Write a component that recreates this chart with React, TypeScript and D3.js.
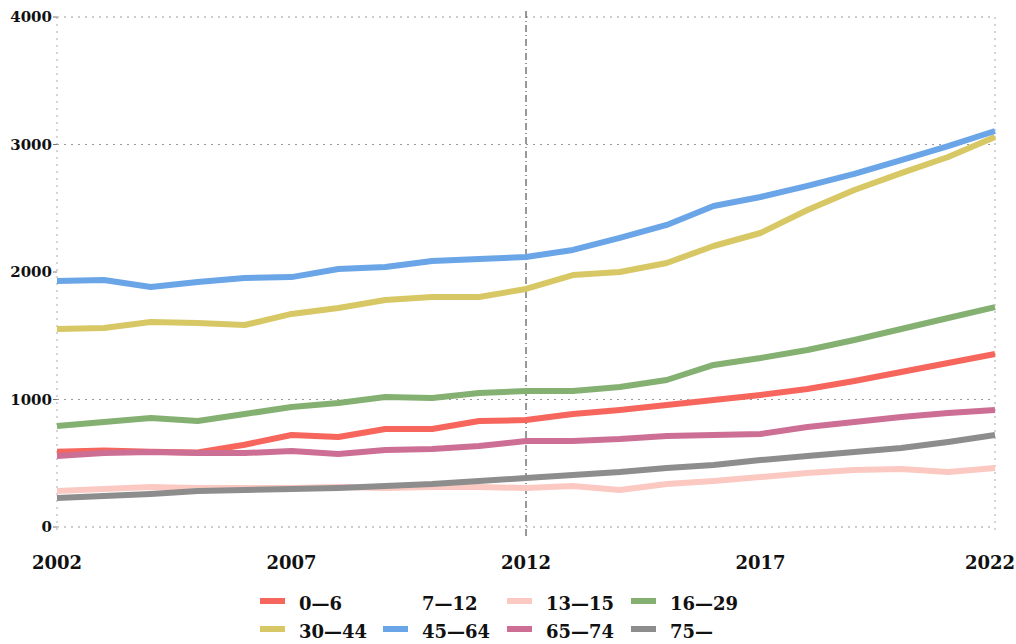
import React from "react";
import * as d3 from "d3";

const years = d3.range(2002, 2023);
const yTicks = [0, 1000, 2000, 3000, 4000];
const xTicks = [2002, 2007, 2012, 2017, 2022];
const gridYVisible = [0, 1000, 3000, 4000];
const gridXLight = [2002, 2022];
const gridXDark = [2012];

const seriesNames = ["0—6", "7—12", "13—15", "16—29", "30—44", "45—64", "65—74", "75—"];
const seriesColors = ["#f6665c", "none", "#fcc9c2", "#84b171", "#d8c865", "#6aa5e8", "#cd6e95", "#8d8d8d"];

const age0_6 = [590, 600, 590, 585, 645, 722, 706, 769, 769, 831, 839, 886, 918, 957, 996, 1035, 1082, 1145, 1216, 1286, 1357];
const age7_12: number[] = [];
const age13_15 = [282, 298, 314, 306, 306, 306, 314, 306, 314, 314, 306, 322, 290, 337, 361, 392, 424, 447, 455, 431, 463];
const age16_29 = [792, 824, 855, 831, 886, 941, 973, 1020, 1012, 1051, 1067, 1067, 1098, 1153, 1271, 1325, 1388, 1467, 1553, 1639, 1725];
const age30_44 = [1553, 1561, 1608, 1600, 1584, 1671, 1718, 1780, 1804, 1804, 1867, 1976, 2000, 2071, 2204, 2306, 2486, 2643, 2776, 2902, 3059];
const age45_64 = [1929, 1937, 1882, 1922, 1953, 1960, 2024, 2039, 2086, 2102, 2118, 2173, 2267, 2369, 2518, 2588, 2675, 2769, 2878, 2988, 3106];
const age65_74 = [557, 580, 588, 580, 580, 596, 573, 604, 612, 635, 675, 675, 690, 714, 722, 729, 784, 824, 863, 894, 918];
const age75 = [227, 243, 259, 282, 290, 298, 306, 322, 337, 361, 384, 408, 431, 463, 486, 525, 557, 588, 620, 667, 722];

const seriesValues = [age0_6, age7_12, age13_15, age16_29, age30_44, age45_64, age65_74, age75];

const W = 1016;
const H = 644;
const FONT = "'DejaVu Serif', 'Liberation Serif', serif";

export default function App() {
  const x = d3.scaleLinear().domain([2002, 2022]).range([57, 995]);
  const y = d3.scaleLinear().domain([0, 4000]).range([527, 17]);
  const line = d3
    .line<number>()
    .x((_, i) => x(years[i]))
    .y((v) => y(v))
    .curve(d3.curveLinear);

  const legendCols = [260, 383, 507, 631];
  const legendRows = [601, 629];

  return (
    <svg
      width={W}
      height={H}
      viewBox={`0 0 ${W} ${H}`}
      style={{ position: "absolute", left: 0, top: 0, background: "#fff" }}
    >
      <rect x={0} y={0} width={W} height={H} fill="#fff" />
      {/* grid */}
      {gridYVisible.map((t) => (
        <line
          key={"gy" + t}
          x1={x(2002)}
          x2={x(2022)}
          y1={y(t)}
          y2={y(t)}
          stroke="#9a9a9a"
          strokeWidth={1}
          strokeDasharray="2,5"
        />
      ))}
      {gridXLight.map((t) => (
        <line
          key={"gx" + t}
          x1={x(t)}
          x2={x(t)}
          y1={y(4000)}
          y2={y(0) + 8}
          stroke="#aaa"
          strokeWidth={1}
          strokeDasharray="2,5"
        />
      ))}
      {gridXDark.map((t) => (
        <line
          key={"gxd" + t}
          x1={x(t)}
          x2={x(t)}
          y1={y(4000) - 6}
          y2={y(0) + 10}
          stroke="#333"
          strokeWidth={1}
          strokeDasharray="7,3,1,3"
        />
      ))}
      {/* y ticks */}
      {yTicks.map((t) => (
        <g key={"yt" + t}>
          <line x1={x(2002) - 4} x2={x(2002)} y1={y(t)} y2={y(t)} stroke="#777" strokeWidth={1} />
          <text
            x={x(2002) - 5}
            y={y(t)}
            dy="0.36em"
            textAnchor="end"
            fontFamily={FONT}
            fontWeight="bold"
            fontSize={15}
            fill="#111"
          >
            {t}
          </text>
        </g>
      ))}
      {/* x ticks */}
      {xTicks.map((t, i) => {
        const last = i === xTicks.length - 1;
        return (
          <text
            key={"xt" + t}
            x={last ? W - 1 : x(t)}
            y={563}
            dy="0.36em"
            textAnchor={last ? "end" : "middle"}
            fontFamily={FONT}
            fontWeight="bold"
            fontSize={18}
            fill="#111"
          >
            {t}
          </text>
        );
      })}
      {/* lines */}
      {seriesValues.map((vals, i) =>
        vals.length > 0 && seriesColors[i] !== "none" ? (
          <path
            key={"s" + i}
            d={line(vals) || ""}
            fill="none"
            stroke={seriesColors[i]}
            strokeWidth={6}
            strokeLinejoin="round"
            strokeLinecap="butt"
          />
        ) : null
      )}
      {/* legend */}
      {seriesNames.map((name, i) => {
        const col = i % 4;
        const row = Math.floor(i / 4);
        const lx = legendCols[col];
        const ly = legendRows[row];
        return (
          <g key={"lg" + i}>
            {seriesColors[i] !== "none" && (
              <rect x={lx} y={ly - 3} width={25} height={6} fill={seriesColors[i]} />
            )}
            <text
              x={lx + 39}
              y={ly + 3}
              dy="0.36em"
              fontFamily={FONT}
              fontWeight="bold"
              fontSize={18}
              fill="#111"
            >
              {name}
            </text>
          </g>
        );
      })}
    </svg>
  );
}
